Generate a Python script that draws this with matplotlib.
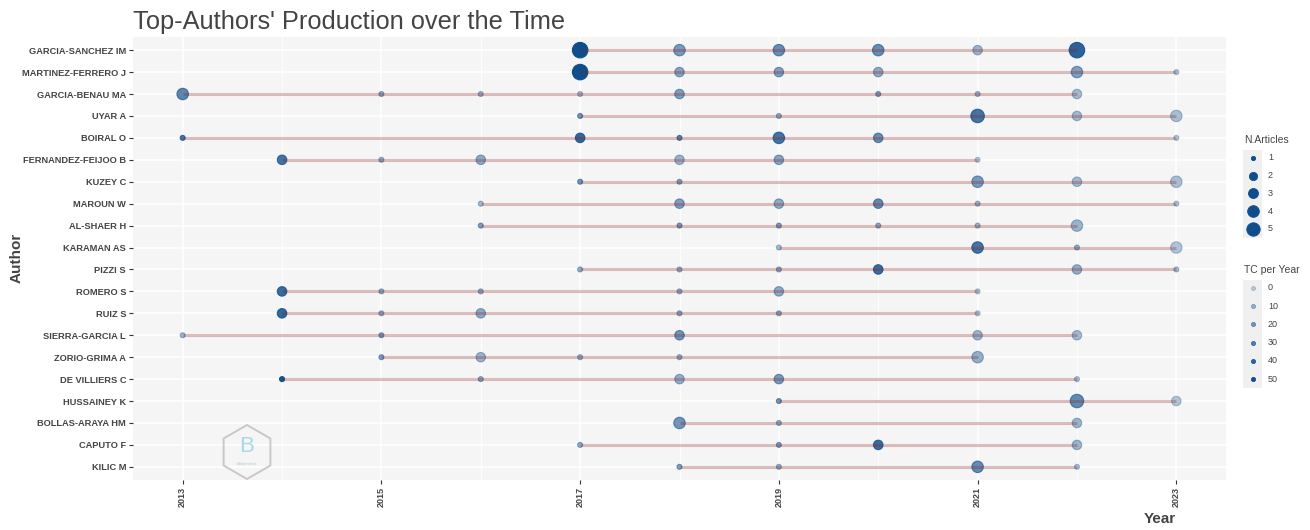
import matplotlib
matplotlib.use('Agg')
import matplotlib.pyplot as plt
from matplotlib import font_manager
from matplotlib.patches import RegularPolygon, Rectangle
import numpy as np

authors = ["GARCIA-SANCHEZ IM", "MARTINEZ-FERRERO J", "GARCIA-BENAU MA", "UYAR A",
           "BOIRAL O", "FERNANDEZ-FEIJOO B", "KUZEY C", "MAROUN W", "AL-SHAER H",
           "KARAMAN AS", "PIZZI S", "ROMERO S", "RUIZ S", "SIERRA-GARCIA L",
           "ZORIO-GRIMA A", "DE VILLIERS C", "HUSSAINEY K", "BOLLAS-ARAYA HM",
           "CAPUTO F", "KILIC M"]

years = [
    [2017, 2018, 2019, 2020, 2021, 2022],
    [2017, 2018, 2019, 2020, 2022, 2023],
    [2013, 2015, 2016, 2017, 2018, 2020, 2021, 2022],
    [2017, 2019, 2021, 2022, 2023],
    [2013, 2017, 2018, 2019, 2020, 2023],
    [2014, 2015, 2016, 2018, 2019, 2021],
    [2017, 2018, 2021, 2022, 2023],
    [2016, 2018, 2019, 2020, 2021, 2023],
    [2016, 2018, 2019, 2020, 2021, 2022],
    [2019, 2021, 2022, 2023],
    [2017, 2018, 2019, 2020, 2022, 2023],
    [2014, 2015, 2016, 2018, 2019, 2021],
    [2014, 2015, 2016, 2018, 2019, 2021],
    [2013, 2015, 2018, 2021, 2022],
    [2015, 2016, 2017, 2018, 2021],
    [2014, 2016, 2018, 2019, 2022],
    [2019, 2022, 2023],
    [2018, 2019, 2022],
    [2017, 2019, 2020, 2022],
    [2018, 2019, 2021, 2022],
]

n_articles = [
    [5, 3, 3, 3, 2, 5],
    [5, 2, 2, 2, 3, 1],
    [3, 1, 1, 1, 2, 1, 1, 2],
    [1, 1, 4, 2, 3],
    [1, 2, 1, 3, 2, 1],
    [2, 1, 2, 2, 2, 1],
    [1, 1, 3, 2, 3],
    [1, 2, 2, 2, 1, 1],
    [1, 1, 1, 1, 1, 3],
    [1, 3, 1, 3],
    [1, 1, 1, 2, 2, 1],
    [2, 1, 1, 1, 2, 1],
    [2, 1, 2, 1, 1, 1],
    [1, 1, 2, 2, 2],
    [1, 2, 1, 1, 3],
    [1, 1, 2, 2, 1],
    [1, 4, 2],
    [3, 1, 2],
    [1, 1, 2, 2],
    [1, 1, 3, 1],
]

tc_per_year = [
    [50, 20, 25, 25, 10, 42],
    [50, 16, 18, 14, 18, 5],
    [28, 14, 10, 8, 18, 18, 10, 8],
    [22, 12, 35, 8, 6],
    [35, 40, 28, 35, 25, 4],
    [35, 12, 14, 10, 16, 3],
    [22, 16, 20, 8, 6],
    [8, 18, 14, 26, 10, 5],
    [18, 20, 18, 14, 10, 10],
    [8, 35, 12, 4],
    [12, 12, 14, 38, 12, 8],
    [38, 12, 12, 12, 14, 4],
    [40, 12, 14, 14, 14, 4],
    [10, 18, 22, 10, 8],
    [18, 10, 12, 12, 12],
    [48, 14, 12, 20, 6],
    [22, 26, 4],
    [22, 12, 10],
    [14, 18, 38, 10],
    [18, 12, 26, 6],
]

size_breaks = [1, 2, 3, 4, 5]
tc_breaks = [0, 10, 20, 30, 40, 50]

point_col = '#104E8B'   # dodgerblue4
line_col = '#8B1A1A'    # firebrick4
txt_col = '#444444'

installed = {f.name for f in font_manager.fontManager.ttflist}
if 'Liberation Sans Narrow' in installed:
    lab_font, lab_size = 'Liberation Sans Narrow', 8.0
else:
    lab_font, lab_size = 'Liberation Sans', 6.7
plt.rcParams['font.family'] = ['Liberation Sans', 'DejaVu Sans']

DPI = 100
W, H = 1310, 530

# diameter in px per article count
diam_px = {1: 5, 2: 9.5, 3: 11.5, 4: 13.5, 5: 15.5}


def msize(n):
    d_pt = diam_px[n] * 72 / DPI
    return d_pt ** 2


def alpha_of(tc):
    return 0.25 + 0.75 * np.clip(tc, 0, 50) / 50


fig = plt.figure(figsize=(W / DPI, H / DPI), dpi=DPI)
fig.patch.set_facecolor('white')
ax = fig.add_axes([133 / W, 1 - 480 / H, (1226 - 133) / W, (480 - 37) / H])
ax.set_facecolor('#F5F5F5')

n = len(authors)
ypos = np.arange(n, 0, -1)

for i in range(n):
    yr = np.array(years[i])
    na = np.array(n_articles[i])
    tc = np.array(tc_per_year[i])
    cols = [(*matplotlib.colors.to_rgb(point_col), alpha_of(t)) for t in tc]
    ax.scatter(yr, np.full(len(yr), ypos[i]), s=[msize(k) for k in na],
               c=cols, edgecolors=cols, linewidths=0.8, zorder=3)
    ax.plot([yr.min(), yr.max()], [ypos[i], ypos[i]], color=line_col,
            alpha=0.28, lw=2.2, solid_capstyle='butt', zorder=4)

ax.set_xlim(2012.5, 2023.5)
ax.set_ylim(0.4, n + 0.6)
ax.set_xticks(np.arange(2013, 2024, 2))
ax.set_xticks(np.arange(2014, 2023, 2), minor=True)
ax.set_yticks(ypos)
ax.set_yticklabels(authors, fontfamily=[lab_font, 'DejaVu Sans'],
                   fontsize=lab_size, fontweight='bold', color=txt_col)
for lab in ax.get_xticklabels():
    lab.set_rotation(90)
    lab.set_fontsize(6.5)
    lab.set_fontweight('bold')
    lab.set_color(txt_col)
ax.grid(which='major', color='white', lw=1.1, zorder=1)
ax.grid(which='minor', axis='x', color='white', lw=0.6, zorder=1)
ax.set_axisbelow(True)
ax.tick_params(axis='both', which='major', length=3, width=0.8, color='#333333', pad=2)
ax.tick_params(axis='x', which='minor', length=0)
for sp in ax.spines.values():
    sp.set_visible(False)

# overlay in pixel space for titles, legend and logo
ov = fig.add_axes([0, 0, 1, 1], zorder=5)
ov.set_xlim(0, W)
ov.set_ylim(H, 0)
ov.axis('off')
ov.patch.set_alpha(0)

ov.text(133, 29, "Top-Authors' Production over the Time", fontsize=18.3,
        color=txt_col, ha='left', va='baseline')
ov.text(1176, 523, 'Year', fontsize=11, fontweight='bold', color=txt_col,
        ha='right', va='baseline')
ov.text(17, 258, 'Author', fontsize=11, fontweight='bold', color=txt_col,
        ha='center', va='center', rotation=90)

# legend: N.Articles
ov.text(1244, 143, 'N.Articles', fontsize=7.5, color=txt_col, va='baseline')
ov.add_patch(Rectangle((1243, 150), 19, 88, facecolor='#F0F0F0', edgecolor='none'))
for j, k in enumerate(size_breaks):
    yy = 158 + j * 17.7
    ov.scatter([1252.5], [yy], s=msize(k) * 0.75, color=point_col, edgecolors=point_col,
               linewidths=0.6)
    ov.text(1268, yy, str(k), fontsize=6.5, color=txt_col, va='center')

# legend: TC per Year
ov.text(1244, 273, 'TC per Year', fontsize=7.5, color=txt_col, va='baseline')
ov.add_patch(Rectangle((1243, 280), 19, 108, facecolor='#F0F0F0', edgecolor='none'))
for j, t in enumerate(tc_breaks):
    yy = 288 + j * 18.2
    c = (*matplotlib.colors.to_rgb(point_col), alpha_of(t))
    ov.scatter([1252.5], [yy], s=msize(1) * 0.7, color=[c], edgecolors=[c], linewidths=0.6)
    ov.text(1268, yy, str(t), fontsize=6.5, color=txt_col, va='center')

# watermark logo
ov.add_patch(RegularPolygon((247, 452), numVertices=6, radius=27, orientation=0,
                            facecolor='none', edgecolor='#C8C8C8', lw=1.4))
ov.text(247, 447, 'B', fontsize=16, color='#A8D8EA', ha='center', va='center')
ov.text(247, 464, 'bibliometrix', fontsize=3, color='#A8C8D8', ha='center', va='center')

fig.savefig('out.png', dpi=DPI)
